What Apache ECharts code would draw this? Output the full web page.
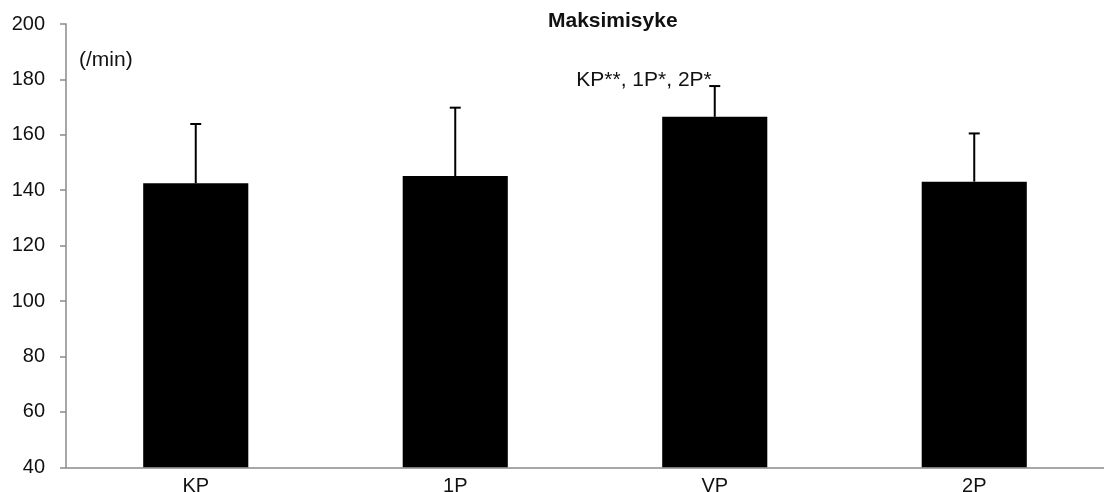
<!DOCTYPE html>
<html>
<head>
<meta charset="utf-8">
<script src="https://cdn.jsdelivr.net/npm/echarts@6/dist/echarts.min.js"></script>
<style>
html,body{margin:0;padding:0;background:#fff;}
#chart{width:1104px;height:492px;}
</style>
</head>
<body>
<div id="chart"></div>
<script>
var categories = ['KP', '1P', 'VP', '2P'];
var means = [142.5, 145.1, 166.5, 143.1];
var sds = [21.4, 24.7, 11.1, 17.4];
var annotations = ['', '', 'KP**, 1P*, 2P*', ''];
var yTicks = {min: 40, max: 200, interval: 20};
var titleText = 'Maksimisyke';
var unitText = '(/min)';

var FONT = "'Liberation Sans', Arial, Helvetica, sans-serif";
var TEXT = '#111';
var AXIS = '#8a8a8a';

var errData = categories.map(function (c, i) { return [i, means[i], means[i] + sds[i]]; });

var chart = echarts.init(document.getElementById('chart'));
chart.setOption({
  animation: false,
  backgroundColor: '#fff',
  title: {
    text: titleText,
    left: 548, top: 11, padding: 0,
    textStyle: {fontFamily: FONT, fontSize: 21, fontWeight: 'bold', color: TEXT}
  },
  graphic: [{
    type: 'text', left: 79, top: 50,
    style: {text: unitText, font: '21px ' + FONT, fill: TEXT}
  }],
  grid: {left: 66, right: 0, top: 24, bottom: 24.7, containLabel: false, outerBoundsMode: 'none'},
  xAxis: {
    type: 'category',
    data: categories,
    axisLine: {lineStyle: {color: AXIS, width: 1.5}},
    axisTick: {show: false},
    axisLabel: {fontFamily: FONT, fontSize: 20, color: TEXT, margin: 9},
    splitLine: {show: false}
  },
  yAxis: {
    type: 'value',
    min: yTicks.min, max: yTicks.max, interval: yTicks.interval,
    axisLine: {show: true, lineStyle: {color: AXIS, width: 1.5}},
    axisTick: {show: true, length: 6, lineStyle: {color: AXIS, width: 1.5}},
    axisLabel: {fontFamily: FONT, fontSize: 20, color: TEXT, margin: 21},
    splitLine: {show: false}
  },
  series: [{
    type: 'bar',
    data: means,
    barWidth: '40.5%',
    itemStyle: {color: '#000'}
  }, {
    type: 'custom',
    data: errData,
    z: 10,
    renderItem: function (params, api) {
      var x = api.value(0);
      var lo = api.coord([x, api.value(1)]);
      var hi = api.coord([x, api.value(2)]);
      var half = 5.5;
      var children = [
        {type: 'line', shape: {x1: lo[0], y1: lo[1], x2: hi[0], y2: hi[1]}, style: {stroke: '#000', lineWidth: 2}},
        {type: 'line', shape: {x1: hi[0] - half, y1: hi[1], x2: hi[0] + half, y2: hi[1]}, style: {stroke: '#000', lineWidth: 2}}
      ];
      var label = annotations[params.dataIndex];
      if (label) {
        children.push({
          type: 'text',
          style: {text: label, x: hi[0] - 3, y: hi[1] + 5, align: 'right', verticalAlign: 'bottom',
                  font: '21px ' + FONT, fill: TEXT}
        });
      }
      return {type: 'group', children: children};
    }
  }]
});
</script>
</body>
</html>
